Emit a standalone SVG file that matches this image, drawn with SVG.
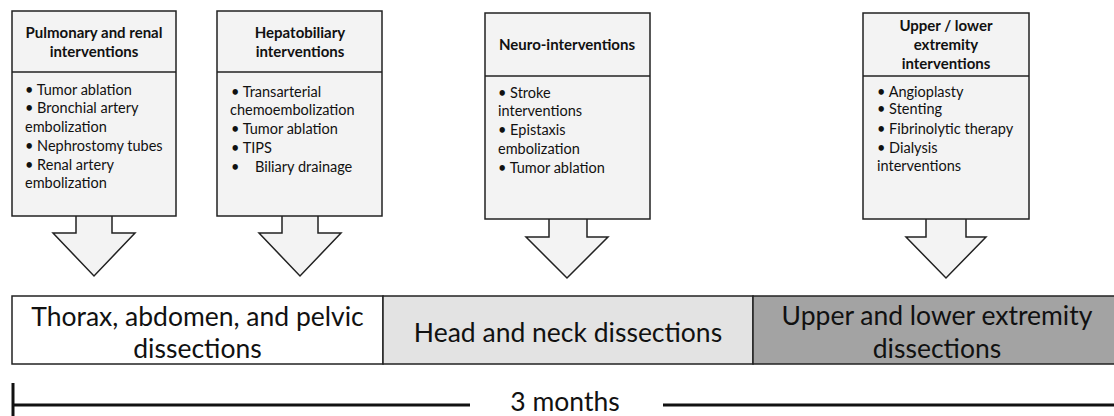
<svg xmlns="http://www.w3.org/2000/svg" width="1114" height="416" viewBox="0 0 1114 416">
<style>
.box{fill:#f3f3f3;stroke:#222;stroke-width:1.5}
.arrow{fill:#f3f3f3;stroke:#222;stroke-width:1.5;stroke-linejoin:miter}
.hd{font-family:Lato,"Liberation Sans",sans-serif;font-weight:bold;font-size:15px;fill:#111;text-anchor:middle}
.bd{font-family:Lato,"Liberation Sans",sans-serif;font-size:14.5px;fill:#111}
.bar{font-family:Lato,"Liberation Sans",sans-serif;font-size:26.5px;fill:#111;text-anchor:middle}
.tl{stroke:#111;stroke-width:3;fill:none}
</style>
<rect width="1114" height="416" fill="#fff"/>

<g id="connectors">
  <path class="arrow" d="M76,216 V233 H53 L94,276 L135,233 H112 V216"/>
  <path class="arrow" d="M282,216 V233 H259 L300,276 L341,233 H318 V216"/>
  <path class="arrow" d="M549,219 V237 H526 L567,278 L608,237 H587 V219"/>
  <path class="arrow" d="M926,219 V237 H906 L946,278 L986,237 H966 V219"/>
</g>

<g id="node-pulmonary">
  <rect class="box" x="12" y="11" width="164" height="205"/>
  <line x1="12" y1="72" x2="176" y2="72" stroke="#222" stroke-width="1.5"/>
  <text class="hd" x="94" y="38">Pulmonary and renal</text>
  <text class="hd" x="94" y="57">interventions</text>
  <text class="bd" x="25" y="95">• Tumor ablation</text>
  <text class="bd" x="25" y="113">• Bronchial artery</text>
  <text class="bd" x="25" y="132">embolization</text>
  <text class="bd" x="25" y="151">• Nephrostomy tubes</text>
  <text class="bd" x="25" y="170">• Renal artery</text>
  <text class="bd" x="25" y="188">embolization</text>
</g>

<g id="node-hepatobiliary">
  <rect class="box" x="217" y="11" width="165" height="205"/>
  <line x1="217" y1="72" x2="382" y2="72" stroke="#222" stroke-width="1.5"/>
  <text class="hd" x="300" y="38">Hepatobiliary</text>
  <text class="hd" x="300" y="57">interventions</text>
  <text class="bd" x="231" y="97">• Transarterial</text>
  <text class="bd" x="230" y="115">chemoembolization</text>
  <text class="bd" x="231" y="134">• Tumor ablation</text>
  <text class="bd" x="231" y="153">• TIPS</text>
  <text class="bd" x="231" y="172">•<tspan x="255">Biliary drainage</tspan></text>
</g>

<g id="node-neuro">
  <rect class="box" x="485" y="13" width="165" height="206"/>
  <line x1="485" y1="76" x2="650" y2="76" stroke="#222" stroke-width="1.5"/>
  <text class="hd" x="567" y="50">Neuro-interventions</text>
  <text class="bd" x="498" y="98">• Stroke</text>
  <text class="bd" x="498" y="116">interventions</text>
  <text class="bd" x="498" y="135">• Epistaxis</text>
  <text class="bd" x="498" y="154">embolization</text>
  <text class="bd" x="498" y="173">• Tumor ablation</text>
</g>

<g id="node-extremity">
  <rect class="box" x="863" y="13" width="166" height="206"/>
  <line x1="863" y1="76" x2="1029" y2="76" stroke="#222" stroke-width="1.5"/>
  <text class="hd" x="946" y="31">Upper / lower</text>
  <text class="hd" x="946" y="50">extremity</text>
  <text class="hd" x="946" y="69">interventions</text>
  <text class="bd" x="877" y="97">• Angioplasty</text>
  <text class="bd" x="877" y="114">• Stenting</text>
  <text class="bd" x="877" y="134">• Fibrinolytic therapy</text>
  <text class="bd" x="877" y="153">• Dialysis</text>
  <text class="bd" x="877" y="171">interventions</text>
</g>

<g id="node-thorax">
  <rect x="12" y="296" width="371" height="68" fill="#fff" stroke="#222" stroke-width="1.5"/>
  <text class="bar" x="197.5" y="326">Thorax, abdomen, and pelvic</text>
  <text class="bar" x="197.5" y="358">dissections</text>
</g>

<g id="node-head">
  <rect x="383" y="296" width="370" height="68" fill="#e3e3e3" stroke="#222" stroke-width="1.5"/>
  <text class="bar" x="568" y="342">Head and neck dissections</text>
</g>

<g id="node-upper">
  <rect x="753" y="296" width="362" height="68" fill="#a3a3a3" stroke="#222" stroke-width="1.5"/>
  <text class="bar" x="937" y="325">Upper and lower extremity</text>
  <text class="bar" x="937" y="358">dissections</text>
</g>

<g id="timeline">
  <line class="tl" x1="13" y1="383" x2="13" y2="416"/>
  <line class="tl" x1="12" y1="405" x2="470" y2="405"/>
  <line class="tl" x1="663" y1="405" x2="1114" y2="405"/>
  <text class="bar" x="565" y="411" font-size="28">3 months</text>
</g>
</svg>
